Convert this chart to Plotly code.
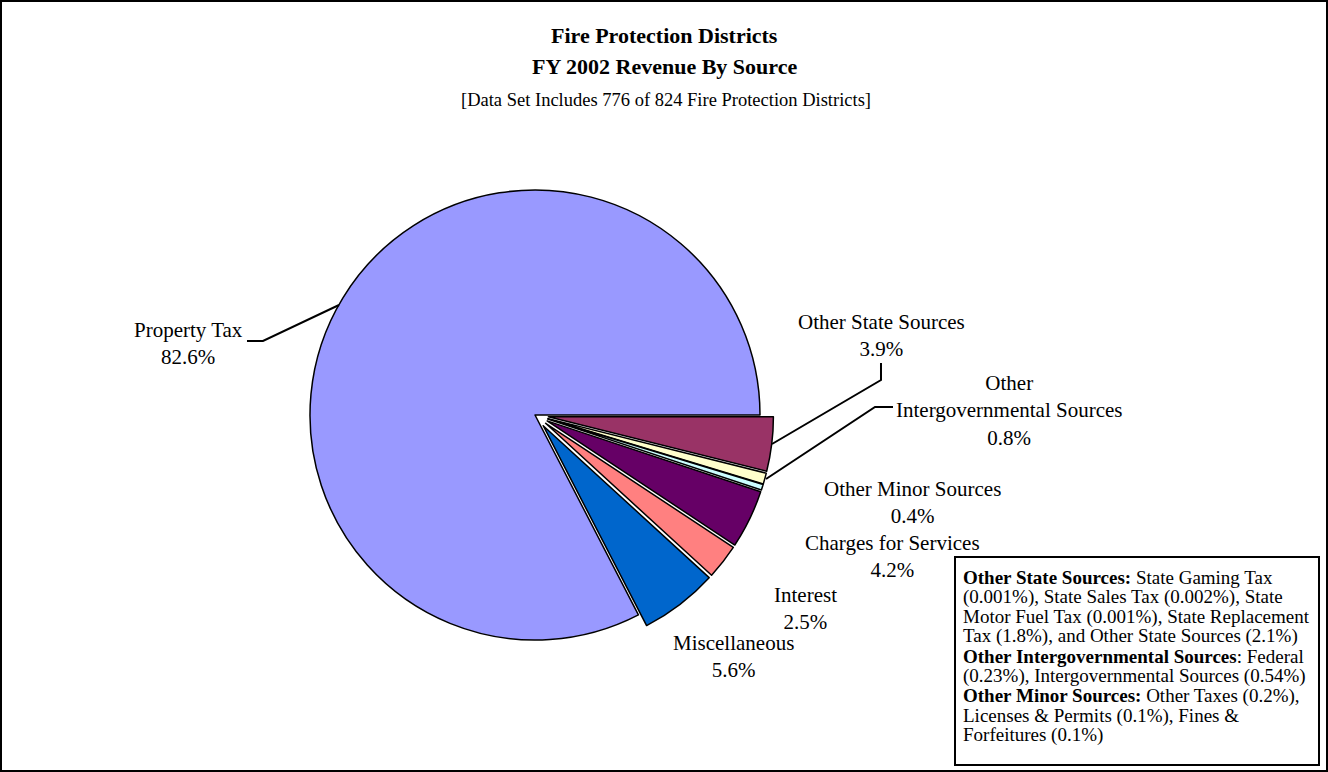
import plotly.graph_objects as go

# ---------------- data ----------------
labels = ["Other State Sources", "Other Intergovernmental Sources", "Other Minor Sources",
          "Charges for Services", "Interest", "Miscellaneous", "Property Tax"]
display_labels = ["Other State Sources", "Other<br>Intergovernmental Sources", "Other Minor Sources",
                  "Charges for Services", "Interest", "Miscellaneous", "Property Tax"]
values = [3.9, 0.8, 0.4, 4.2, 2.5, 5.6, 82.6]
colors = ["#993366", "#FFFFCC", "#CCFFFF", "#660066", "#FF8080", "#0066CC", "#9999FF"]

title_lines = ["Fire Protection Districts", "FY 2002 Revenue By Source"]
subtitle = "[Data Set Includes 776 of 824 Fire Protection Districts]"

note_lines = [
    "<b>Other State Sources:</b> State Gaming Tax",
    "(0.001%), State Sales Tax (0.002%), State",
    "Motor Fuel Tax (0.001%), State Replacement",
    "Tax (1.8%), and Other State Sources (2.1%)",
    "<b>Other Intergovernmental Sources</b>: Federal",
    "(0.23%), Intergovernmental Sources (0.54%)",
    "<b>Other Minor Sources:</b> Other Taxes (0.2%),",
    "Licenses &amp; Permits (0.1%), Fines &amp;",
    "Forfeitures (0.1%)",
]

# ---------------- layout helpers ----------------
W, H = 1328, 772
FONT = "Liberation Serif, Times New Roman, serif"


def px(x):
    return x / W


def py(y):
    return 1 - y / H


cx, cy, r, pull = 535, 415, 225, 0.06
half = r * (1 + pull)

fig = go.Figure()
fig.add_trace(go.Pie(
    labels=labels, values=values, sort=False, direction="clockwise", rotation=90,
    marker=dict(colors=colors, line=dict(color="black", width=1.5)),
    pull=[pull if l != "Property Tax" else 0 for l in labels],
    textinfo="none", hoverinfo="label+percent", showlegend=False,
    domain=dict(x=[px(cx - half), px(cx + half)], y=[py(cy + half), py(cy - half)]),
))

annotations = []
# titles
annotations.append(dict(x=px(664), y=py(35), text="<b>%s</b>" % title_lines[0], showarrow=False,
                        xanchor="center", yanchor="middle", font=dict(family=FONT, size=22, color="black")))
annotations.append(dict(x=px(664), y=py(67), text="<b>%s</b>" % title_lines[1], showarrow=False,
                        xanchor="center", yanchor="middle", font=dict(family=FONT, size=22, color="black")))
annotations.append(dict(x=px(666), y=py(100), text=subtitle, showarrow=False,
                        xanchor="center", yanchor="middle", font=dict(family=FONT, size=18.5, color="black")))

# slice labels
label_pos = [(881, 335), (1009, 410), (912, 502), (892, 556), (805, 608), (733, 656), (188, 343)]
for disp, v, (lx, ly) in zip(display_labels, values, label_pos):
    annotations.append(dict(x=px(lx), y=py(ly), text="%s<br>%.1f%%" % (disp, v), showarrow=False,
                            xanchor="center", yanchor="middle", align="center",
                            font=dict(family=FONT, size=21, color="black")))

# note box lines
for i, line in enumerate(note_lines):
    annotations.append(dict(x=px(961), y=py(577 + 19.8 * i), text=line, showarrow=False,
                            xanchor="left", yanchor="middle", align="left",
                            font=dict(family=FONT, size=19, color="black")))


def path(points):
    return "M " + " L ".join("%.5f,%.5f" % (px(a), py(b)) for a, b in points)


shapes = [
    # outer border
    dict(type="rect", xref="paper", yref="paper", x0=px(1), y0=py(1), x1=px(1327), y1=py(771),
         line=dict(color="black", width=2)),
    # note box
    dict(type="rect", xref="paper", yref="paper", x0=px(955), y0=py(557), x1=px(1319), y1=py(765),
         line=dict(color="black", width=2), fillcolor="white"),
    # leader lines
    dict(type="path", xref="paper", yref="paper", path=path([(247, 341), (263, 341), (339, 305)]),
         line=dict(color="black", width=2)),
    dict(type="path", xref="paper", yref="paper", path=path([(881, 363), (881, 380), (772, 444)]),
         line=dict(color="black", width=2)),
    dict(type="path", xref="paper", yref="paper", path=path([(893, 407), (875, 407), (766, 479)]),
         line=dict(color="black", width=2)),
]

fig.update_layout(
    width=W, height=H, margin=dict(l=0, r=0, t=0, b=0),
    paper_bgcolor="white", plot_bgcolor="white",
    annotations=annotations, shapes=shapes, showlegend=False,
)

fig.write_html("out.html")
